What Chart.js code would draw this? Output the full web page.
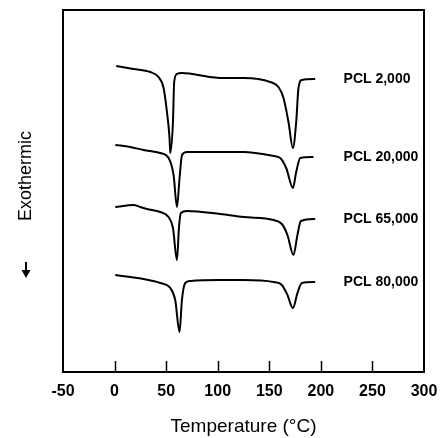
<!DOCTYPE html>
<html lang="en">
<head>
  <meta charset="UTF-8">
  <title>DSC thermograms of PCL</title>
  <script src="https://cdn.jsdelivr.net/npm/chart.js"></script>
  <style>
    html, body { margin: 0; padding: 0; background: #fff; }
    #wrap { width: 442px; height: 438px; }
  </style>
</head>
<body>
<div id="wrap"><canvas id="dscChart" width="442" height="438"></canvas></div>

<script>
// temperatures (°C) and heat flow (arbitrary units)
const pcl2kTemp   = [1.6, 18.4, 34.6, 42.6, 47.5, 50.8, 53.3, 54.0, 56.6, 57.8, 60.4, 65.3, 92.7, 102.4, 125, 150.9, 158.9, 163.8, 168.6, 172.9, 176.1, 178.3, 181.6, 194.5];
const pcl2kFlow   = [30.6, 30.3, 30.0, 29.5, 28.4, 26.0, 23.4, 21.9, 25.0, 29.0, 29.8, 29.9, 29.5, 29.4, 29.4, 29.0, 28.5, 27.4, 25.0, 22.4, 25.0, 28.4, 29.2, 29.3];

const pcl20kTemp  = [0.7, 15.2, 28.1, 44.3, 52.4, 57.2, 60.5, 63.0, 65.4, 70.2, 102.4, 125.0, 154.1, 160.6, 166.4, 172.9, 176.1, 180.0, 192.8];
const pcl20kFlow  = [22.7, 22.5, 22.2, 21.9, 21.4, 19.7, 16.5, 19.4, 21.7, 22.0, 22.0, 22.0, 21.6, 21.4, 20.4, 18.4, 20.0, 21.4, 21.5];

const pcl65kTemp  = [0.7, 18.4, 24.9, 31.4, 44.3, 52.3, 56.6, 60.5, 62.4, 64.3, 70.2, 102.4, 125.0, 154.1, 162.2, 167.6, 173.4, 177.3, 180.6, 194.5];
const pcl65kFlow  = [16.5, 16.7, 16.5, 16.3, 16.0, 15.5, 14.4, 11.2, 14.4, 15.9, 16.1, 15.8, 15.5, 15.2, 14.8, 13.7, 11.7, 13.7, 15.1, 15.3];

const pcl80kTemp  = [0.7, 15.2, 28.1, 44.3, 54.0, 58.8, 63.0, 65.3, 68.5, 73.4, 102.4, 125.0, 154.1, 162.2, 167.6, 172.9, 177.3, 181.6, 194.5];
const pcl80kFlow  = [9.7, 9.5, 9.3, 8.9, 8.4, 7.2, 4.0, 7.2, 8.9, 9.1, 9.2, 9.2, 9.0, 8.7, 7.7, 6.4, 7.9, 8.9, 9.0];

const seriesNames = ['PCL 2,000', 'PCL 20,000', 'PCL 65,000', 'PCL 80,000'];
const xTicks = [-50, 0, 50, 100, 150, 200, 250, 300];
const labelTemp = 222; // where the sample names start
const xTitle = 'Temperature (\u00B0C)';
const yTitle = 'Exothermic';

const FONT = "'Liberation Sans', Arial, Helvetica, sans-serif";

function toPoints(xs, ys) {
  return xs.map((x, i) => ({ x: x, y: ys[i] }));
}

const allSeries = [
  toPoints(pcl2kTemp, pcl2kFlow),
  toPoints(pcl20kTemp, pcl20kFlow),
  toPoints(pcl65kTemp, pcl65kFlow),
  toPoints(pcl80kTemp, pcl80kFlow)
];

// frame, inward ticks, tick labels, axis titles and curve names
const decorPlugin = {
  id: 'decor',
  afterDraw(chart) {
    const ctx = chart.ctx;
    const area = chart.chartArea;
    const xs = chart.scales.x;
    const ys = chart.scales.y;
    ctx.save();

    ctx.strokeStyle = '#000';
    ctx.lineWidth = 2;
    ctx.strokeRect(area.left, area.top, area.right - area.left, area.bottom - area.top);

    ctx.lineWidth = 1.5;
    ctx.fillStyle = '#000';
    ctx.textAlign = 'center';
    ctx.textBaseline = 'middle';
    ctx.font = 'bold 16px ' + FONT;
    xTicks.forEach(v => {
      const px = xs.getPixelForValue(v);
      if (v > xs.min && v < xs.max) {
        ctx.beginPath();
        ctx.moveTo(Math.round(px) + 0.5, area.bottom);
        ctx.lineTo(Math.round(px) + 0.5, area.bottom - 11);
        ctx.stroke();
      }
      ctx.fillText(String(v), px, area.bottom + 20);
    });

    ctx.font = '19px ' + FONT;
    ctx.fillText(xTitle, (area.left + area.right) / 2, area.bottom + 55);

    ctx.font = '18px ' + FONT;
    ctx.save();
    ctx.translate(26, 176);
    ctx.rotate(-Math.PI / 2);
    ctx.fillText(yTitle, 0, 0);
    ctx.restore();

    // downward arrow under the y label
    ctx.lineWidth = 2;
    ctx.beginPath();
    ctx.moveTo(26, 262);
    ctx.lineTo(26, 272);
    ctx.stroke();
    ctx.beginPath();
    ctx.moveTo(21.5, 270);
    ctx.lineTo(30.5, 270);
    ctx.lineTo(26, 278);
    ctx.closePath();
    ctx.fill();

    ctx.font = 'bold 14px ' + FONT;
    ctx.textAlign = 'left';
    chart.data.datasets.forEach(ds => {
      const last = ds.data[ds.data.length - 1];
      ctx.fillText(ds.label, xs.getPixelForValue(labelTemp), ys.getPixelForValue(last.y));
    });

    ctx.restore();
  }
};

new Chart(document.getElementById('dscChart'), {
  type: 'line',
  data: {
    datasets: allSeries.map((pts, i) => ({
      label: seriesNames[i],
      data: pts,
      borderColor: '#000',
      borderWidth: 2,
      pointRadius: 0,
      fill: false,
      cubicInterpolationMode: 'monotone'
    }))
  },
  options: {
    responsive: false,
    animation: false,
    layout: { padding: { left: 63, right: 18, top: 10, bottom: 66 } },
    plugins: {
      legend: { display: false },
      tooltip: { enabled: false }
    },
    scales: {
      x: { type: 'linear', display: false, min: -50, max: 300 },
      y: { display: false, min: 0, max: 36.2 }
    }
  },
  plugins: [decorPlugin]
});
</script>
</body>
</html>
